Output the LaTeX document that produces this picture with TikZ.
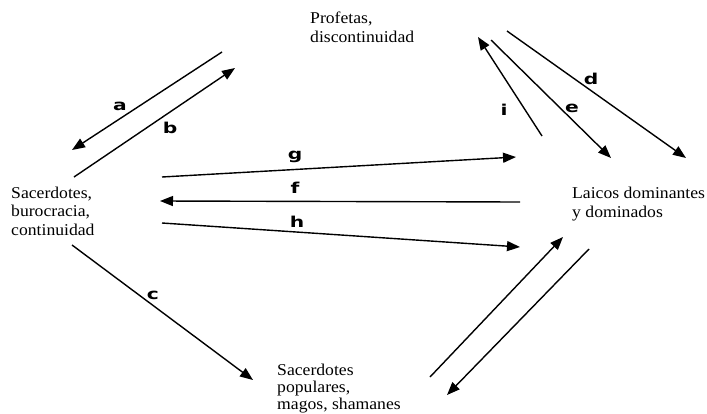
\documentclass[tikz,border=0pt]{standalone}
\usepackage{fontspec}
\setmainfont{Liberation Serif}[FakeStretch=1.07]
\newfontfamily\labelfont{DejaVu Sans}[FakeStretch=1.35]
\usetikzlibrary{arrows.meta}
\begin{document}
\begin{tikzpicture}[x=1pt,y=-1pt,
  actor/.style={inner sep=0pt, align=left, anchor=base west,
    font=\fontsize{16.5}{18.5}\selectfont},
  flow/.style={line width=1.4pt, -{Triangle[length=13pt,width=10pt]}},
  tag/.style={inner sep=0pt, font=\labelfont\bfseries\fontsize{15}{15}\selectfont}]
\useasboundingbox (0,0) rectangle (707,413);

% the four groups (anchored at the baseline of their last line)
\node[actor] (prof) at (310,42) {Profetas,\\discontinuidad};
\node[actor] (sac)  at (11,235) {Sacerdotes,\\burocracia,\\continuidad};
\node[actor] (lai)  at (572,217) {Laicos dominantes\\y dominados};
\node[actor, font=\fontsize{16.5}{17}\selectfont] (pop) at (277,409) {Sacerdotes\\populares,\\magos, shamanes};

% arrow end points
\coordinate (a1) at (222,52);  \coordinate (a2) at (72,150);
\coordinate (b1) at (74,177);  \coordinate (b2) at (235,68);
\coordinate (g1) at (162,177); \coordinate (g2) at (516,157);
\coordinate (f1) at (520,202); \coordinate (f2) at (160,201);
\coordinate (h1) at (162,223); \coordinate (h2) at (520,247);
\coordinate (c1) at (72,245);  \coordinate (c2) at (253,380);
\coordinate (u1) at (430,377); \coordinate (u2) at (563,237);
\coordinate (v1) at (589,249); \coordinate (v2) at (447,395);
\coordinate (i1) at (542,136); \coordinate (i2) at (478,37);
\coordinate (e1) at (491,40);  \coordinate (e2) at (611,158);
\coordinate (d1) at (507,31);  \coordinate (d2) at (686,158);

\draw[flow] (a1) -- (a2);
\draw[flow] (b1) -- (b2);
\draw[flow] (g1) -- (g2);
\draw[flow] (f1) -- (f2);
\draw[flow] (h1) -- (h2);
\draw[flow] (c1) -- (c2);
\draw[flow] (u1) -- (u2);
\draw[flow] (v1) -- (v2);
\draw[flow] (i1) -- (i2);
\draw[flow] (e1) -- (e2);
\draw[flow] (d1) -- (d2);

% arrow letters
\node[tag] (la) at (120,106) {a};
\node[tag] (lb) at (170,128) {b};
\node[tag] (lg) at (295,157) {g};
\node[tag] (lf) at (295,188) {f};
\node[tag] (lh) at (297,222) {h};
\node[tag] (lc) at (153,295) {c};
\node[tag] (li) at (504,110) {i};
\node[tag] (le) at (572,108) {e};
\node[tag] (ld) at (591,79) {d};
\end{tikzpicture}
\end{document}
